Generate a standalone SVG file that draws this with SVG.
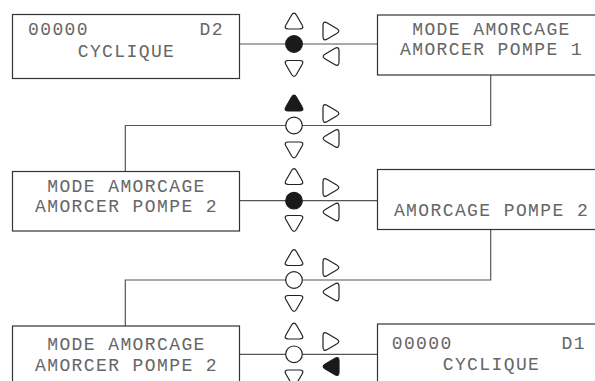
<svg xmlns="http://www.w3.org/2000/svg" width="595" height="381" viewBox="0 0 595 381">
<style>
.box{fill:#fff;stroke:#333;stroke-width:1.2}
.t{font-family:"Liberation Mono","Courier New",monospace;font-size:18px;letter-spacing:1.4px;fill:#666}
.c{text-anchor:middle}
.e{text-anchor:end}
.ln{fill:none;stroke:#555;stroke-width:1.2}
.o{fill:#fff;stroke:#222;stroke-width:1.2}
.f{fill:#1a1a1a;stroke:#1a1a1a;stroke-width:1.2}
</style>
<defs>
<path id="tri" d="M2.52,-5.18 L7.98,4.18 Q10.5,8.5 5.5,8.5 L-5.5,8.5 Q-10.5,8.5 -7.98,4.18 L-2.52,-5.18 Q0,-9.5 2.52,-5.18 Z"/>
</defs>
<g id="connectors">
<path class="ln" d="M239.5,44 H377.5"/>
<path class="ln" d="M490.7,75 V125.5 H125.3 V171.5"/>
<path class="ln" d="M239.5,200.7 H377.5"/>
<path class="ln" d="M490.7,229.5 V280 H125.3 V326"/>
<path class="ln" d="M239.5,354.3 H377.5"/>
</g>
<g id="n1">
<rect class="box" x="12.5" y="14.5" width="227" height="64"/>
<text class="t" x="28" y="35">00000</text>
<text class="t e" x="224" y="35">D2</text>
<text class="t c" x="126.5" y="57">CYCLIQUE</text>
</g>
<g id="n2">
<rect class="box" x="377.5" y="15" width="226" height="60"/>
<text class="t c" x="491.5" y="35">MODE AMORCAGE</text>
<text class="t c" x="491.5" y="55">AMORCER POMPE 1</text>
</g>
<g id="n3">
<rect class="box" x="12.5" y="171.5" width="227" height="59.5"/>
<text class="t c" x="126.5" y="191.7">MODE AMORCAGE</text>
<text class="t c" x="126.5" y="212.3">AMORCER POMPE 2</text>
</g>
<g id="n4">
<rect class="box" x="377.5" y="169.5" width="226" height="60"/>
<text class="t c" x="491.5" y="215.7">AMORCAGE POMPE 2</text>
</g>
<g id="n5">
<rect class="box" x="12.5" y="326" width="227" height="70"/>
<text class="t c" x="126.5" y="350">MODE AMORCAGE</text>
<text class="t c" x="126.5" y="370.7">AMORCER POMPE 2</text>
</g>
<g id="n6">
<rect class="box" x="377.5" y="324" width="226" height="70"/>
<text class="t" x="391.7" y="349.3">00000</text>
<text class="t e" x="586" y="349.3">D1</text>
<text class="t c" x="491.5" y="370">CYCLIQUE</text>
</g>
<g id="keys1">
<use href="#tri" class="o" transform="translate(294,20.5)"/>
<circle class="f" cx="294" cy="44" r="8.3"/>
<use href="#tri" class="o" transform="translate(294,69) rotate(180)"/>
<use href="#tri" class="o" transform="translate(331.5,31) rotate(90)"/>
<use href="#tri" class="o" transform="translate(330.5,56.5) rotate(-90)"/>
</g>
<g id="keys2">
<use href="#tri" class="f" transform="translate(294,102.5)"/>
<circle class="o" cx="294" cy="125.5" r="8.3"/>
<use href="#tri" class="o" transform="translate(294,150.5) rotate(180)"/>
<use href="#tri" class="o" transform="translate(331.5,113.5) rotate(90)"/>
<use href="#tri" class="o" transform="translate(330.5,138.5) rotate(-90)"/>
</g>
<g id="keys3">
<use href="#tri" class="o" transform="translate(294,176)"/>
<circle class="f" cx="294" cy="200.7" r="8.3"/>
<use href="#tri" class="o" transform="translate(294,224) rotate(180)"/>
<use href="#tri" class="o" transform="translate(331.5,187.5) rotate(90)"/>
<use href="#tri" class="o" transform="translate(330.5,212) rotate(-90)"/>
</g>
<g id="keys4">
<use href="#tri" class="o" transform="translate(294,257)"/>
<circle class="o" cx="294" cy="280" r="8.3"/>
<use href="#tri" class="o" transform="translate(294,304) rotate(180)"/>
<use href="#tri" class="o" transform="translate(331.5,267.5) rotate(90)"/>
<use href="#tri" class="o" transform="translate(330.5,292) rotate(-90)"/>
</g>
<g id="keys5">
<use href="#tri" class="o" transform="translate(294,330.5)"/>
<circle class="o" cx="294" cy="354.3" r="8.3"/>
<use href="#tri" class="o" transform="translate(294,378.5) rotate(180)"/>
<use href="#tri" class="o" transform="translate(331.5,341.5) rotate(90)"/>
<use href="#tri" class="f" transform="translate(330.5,366.5) rotate(-90)"/>
</g>
</svg>
